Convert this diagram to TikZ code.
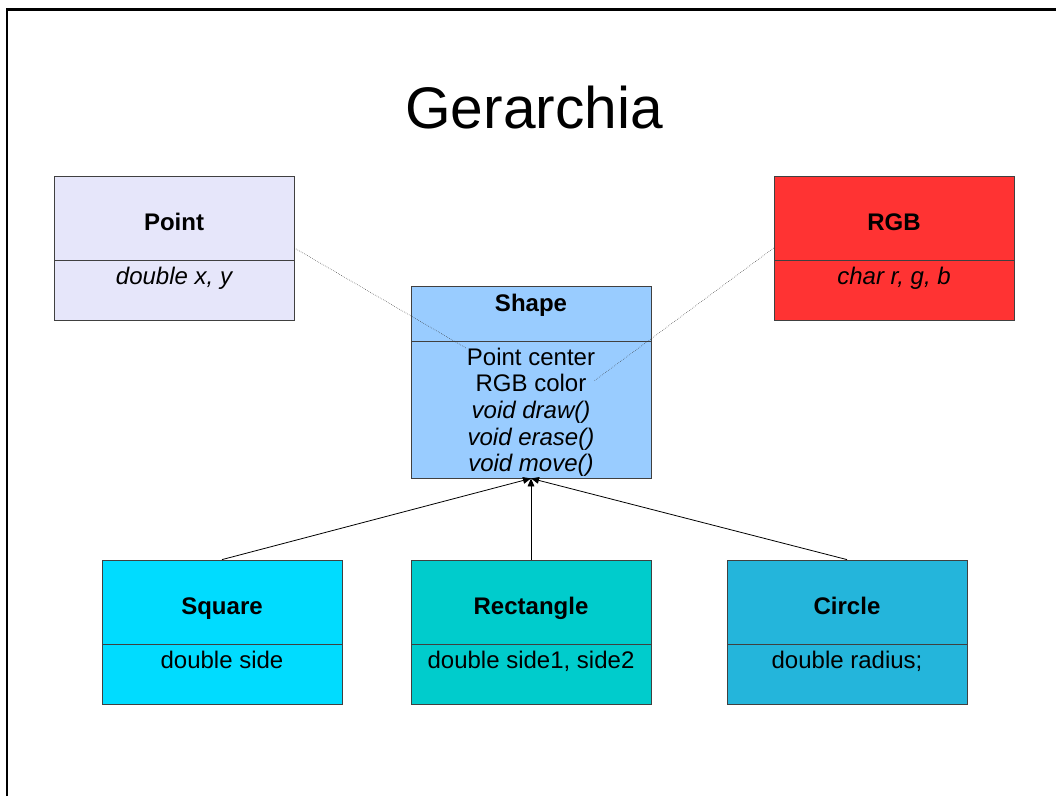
\documentclass[tikz,border=0pt]{standalone}
\usepackage{fontspec}
\setmainfont{Liberation Sans}
\usetikzlibrary{arrows.meta}

\definecolor{pointcol}{RGB}{230,230,250}
\definecolor{rgbcol}{RGB}{255,51,51}
\definecolor{shapecol}{RGB}{153,204,255}
\definecolor{squarecol}{RGB}{0,220,255}
\definecolor{rectcol}{RGB}{0,204,204}
\definecolor{circlecol}{RGB}{36,181,219}

\newcommand{\umlfont}{\fontsize{18pt}{20pt}\selectfont}

\begin{document}
\begin{tikzpicture}[
	x=0.75pt, y=-0.75pt,
	classbox/.style={ draw=black!75, line width=0.6pt, minimum width=180pt, inner sep=0pt },
	nametext/.style={ anchor=base, yshift=22.5pt, inner sep=0pt, font=\umlfont\bfseries },
	attrtext/.style={ anchor=north, yshift=-5.3pt, inner sep=0pt, align=center, font=\umlfont },
	link/.style={ densely dotted, black!80, thin },
	inherit/.style={ -{Triangle[length=6pt,width=5pt]}, line width=0.6pt }
]
\useasboundingbox (0,0) rectangle (1056,796);

% slide frame
\draw [line width=1.8pt] (7,796) -- (7,9.5) -- (1056,9.5);

\node at (534,128) (title) [anchor=base, font=\fontsize{44pt}{50pt}\selectfont] {Gerarchia};

% classes
\node at (174,218) (pt) [classbox, minimum height=63pt, fill=pointcol, label={[nametext]south:Point}] {};
\node at (174,290) (ptattr) [classbox, minimum height=45pt, fill=pointcol, label={[attrtext]north:{\itshape double x, y}}] {};

\node at (894,218) (rgb) [classbox, minimum height=63pt, fill=rgbcol, label={[nametext]south:RGB}] {};
\node at (894,290) (rgbattr) [classbox, minimum height=45pt, fill=rgbcol, label={[attrtext]north:{\itshape char r, g, b}}] {};

\node at (531,313.5) (sh) [classbox, minimum height=41.25pt, fill=shapecol, label={[nametext]south:Shape}] {};
\node at (531,409.5) (shattr) [classbox, minimum height=102.75pt, fill=shapecol,
	label={[attrtext]north:{Point center\\RGB color\\\itshape void draw()\\\itshape void erase()\\\itshape void move()}}] {};

\node at (222,602) (sq) [classbox, minimum height=63pt, fill=squarecol, label={[nametext]south:Square}] {};
\node at (222,674) (sqattr) [classbox, minimum height=45pt, fill=squarecol, label={[attrtext]north:double side}] {};

\node at (531,602) (rect) [classbox, minimum height=63pt, fill=rectcol, label={[nametext]south:Rectangle}] {};
\node at (531,674) (rectattr) [classbox, minimum height=45pt, fill=rectcol, label={[attrtext]north:{double side1, side2}}] {};

\node at (847,602) (circ) [classbox, minimum height=63pt, fill=circlecol, label={[nametext]south:Circle}] {};
\node at (847,674) (circattr) [classbox, minimum height=45pt, fill=circlecol, label={[attrtext]north:double radius;}] {};

% field links
\coordinate (centerfield) at (466,348);
\coordinate (colorfield) at (594,381);
\draw [link] (pt.-14.5) -- (centerfield);
\draw [link] (rgb.194.5) -- (colorfield);

% inheritance
\draw [inherit] (sq.north) -- (shattr.south);
\draw [inherit] (rect.north) -- (shattr.south);
\draw [inherit] (circ.north) -- (shattr.south);

\end{tikzpicture}
\end{document}
